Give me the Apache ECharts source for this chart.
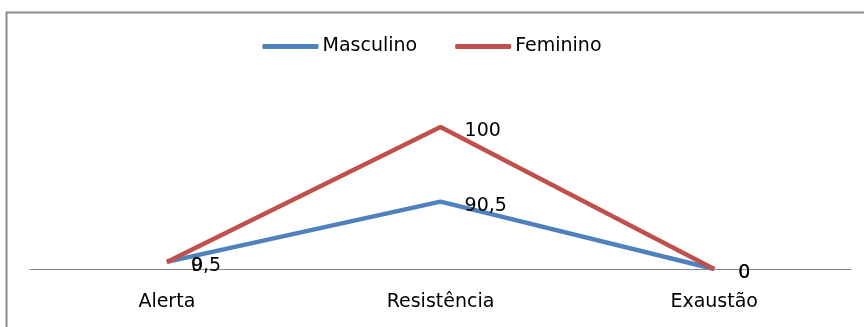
<!DOCTYPE html>
<html>
<head>
<meta charset="utf-8">
<script src="https://cdn.jsdelivr.net/npm/echarts@6/dist/echarts.min.js"></script>
<style>
  html, body { margin: 0; padding: 0; background: #fff; }
  #chart { width: 864px; height: 327px; }
</style>
</head>
<body>
<div id="chart"></div>
<script>
// Stress phases (categories) and percentages per group
const phases = ['Alerta', 'Resistência', 'Exaustão'];
const masculino = [9.5, 90.5, 0];
const feminino = [0, 100, 0];

const FONT = 'DejaVu Sans';
const fmtComma = p => String(p.value).replace('.', ',');

const labelStyle = {
  show: true,
  position: 'right',
  distance: 24,
  offset: [0, 4],
  color: '#000',
  fontFamily: FONT,
  fontSize: 19,
  formatter: fmtComma
};

const chart = echarts.init(document.getElementById('chart'));
chart.setOption({
  animation: false,
  backgroundColor: '#fff',
  graphic: [{
    type: 'rect',
    shape: { x: 6.5, y: 12.5, width: 900, height: 400 },
    style: { fill: 'none', stroke: '#8c8c8c', lineWidth: 2 },
    silent: true,
    z: -1
  }],
  legend: {
    top: 32,
    left: 'center',
    icon: 'roundRect',
    itemWidth: 56,
    itemHeight: 5,
    itemGap: 38,
    textStyle: { fontFamily: FONT, fontSize: 19, color: '#000', padding: [0, 0, 0, -1] },
    data: ['Masculino', 'Feminino']
  },
  grid: { left: 30, right: 13, top: 120, bottom: 58 },
  xAxis: {
    type: 'category',
    data: phases,
    boundaryGap: true,
    axisLine: { lineStyle: { color: '#868686', width: 1 } },
    axisTick: { show: false },
    axisLabel: { color: '#000', fontFamily: FONT, fontSize: 19, margin: 24 }
  },
  yAxis: {
    type: 'value',
    min: 0,
    max: 200,
    show: false,
    splitLine: { show: false }
  },
  series: [
    {
      name: 'Masculino',
      type: 'line',
      stack: 'total',
      data: masculino,
      symbol: 'circle',
      symbolSize: 0.1,
      showSymbol: true,
      lineStyle: { color: '#4f81bd', width: 4.5 },
      itemStyle: { color: '#4f81bd' },
      label: labelStyle
    },
    {
      name: 'Feminino',
      type: 'line',
      stack: 'total',
      data: feminino,
      symbol: 'circle',
      symbolSize: 0.1,
      showSymbol: true,
      lineStyle: { color: '#c0504d', width: 4.5 },
      itemStyle: { color: '#c0504d' },
      label: labelStyle
    }
  ]
});
</script>
</body>
</html>
